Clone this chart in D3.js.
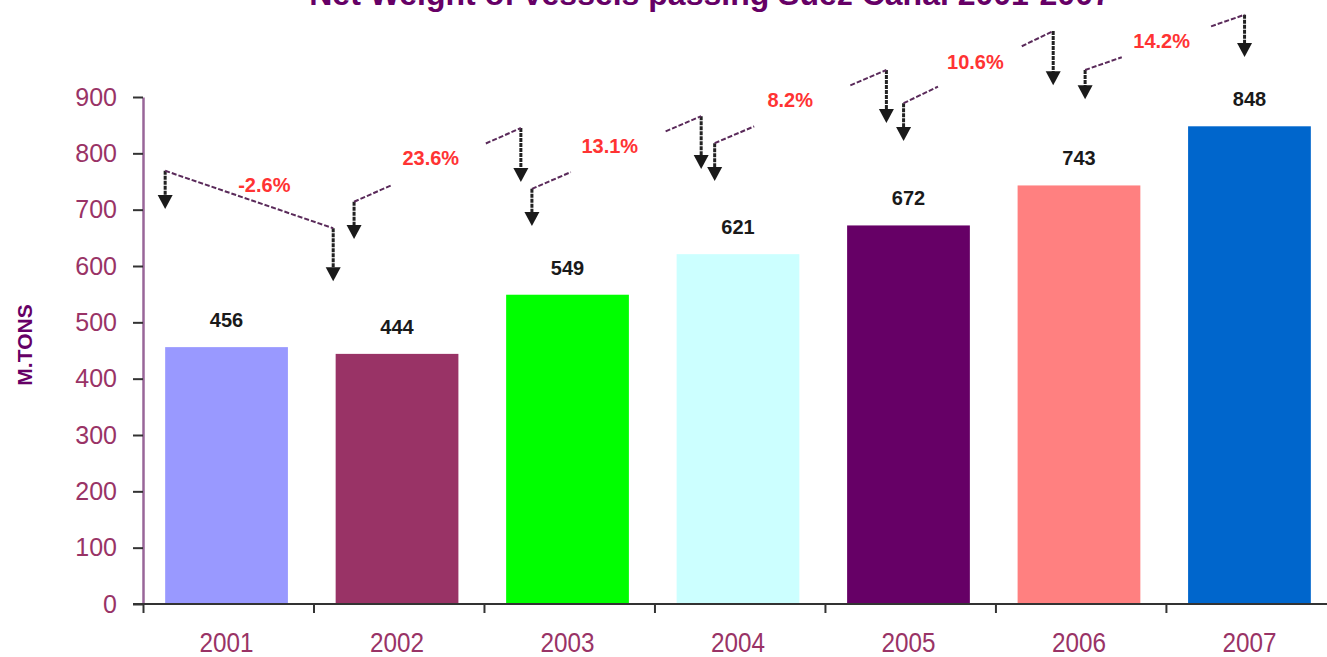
<!DOCTYPE html>
<html>
<head>
<meta charset="utf-8">
<script src="https://cdn.jsdelivr.net/npm/d3@7"></script>
<style>
  body { margin: 0; background: #fff; }
  svg { display: block; font-family: Arial, "Liberation Sans", sans-serif; }
</style>
</head>
<body>
<div id="chart"></div>
<script>
var svgWidth = 1327;
var svgHeight = 657;

// data
var years = ["2001", "2002", "2003", "2004", "2005", "2006", "2007"];
var tonnage = [456, 444, 549, 621, 672, 743, 848];
var barColors = ["#9999FF", "#993366", "#00FF00", "#CCFFFF", "#660066", "#FF8080", "#0066CC"];
var yTicks = [0, 100, 200, 300, 400, 500, 600, 700, 800, 900];
var growthLabels = ["-2.6%", "23.6%", "13.1%", "8.2%", "10.6%", "14.2%"];

// callout arrows (x as fraction of bar width, y in M.TONS)
var leftDx = [0.0, 0.15, 0.21, 0.31, 0.46, 0.55];
var rightDx = [-0.02, 0.12, 0.20, 0.32, 0.29, 0.46];
var leftTop = [769, 714, 737, 818, 889, 948];
var leftTip = [701, 648, 671, 751, 822, 896];
var rightTop = [667, 845, 866, 948, 1017, 1046];
var rightTip = [573, 749, 772, 854, 921, 971];
var labelT = [0.59, 0.46, 0.46, 0.44, 0.48, 0.48];
var labelLift = [20, 10, 9, 11, 7, 2];

var plot = { left: 143, right: 1333, top: 97, bottom: 604 };

var svg = d3.select("#chart").append("svg")
    .attr("width", svgWidth)
    .attr("height", svgHeight);

var x = d3.scaleBand()
    .domain(years)
    .range([plot.left, plot.right])
    .paddingInner(0.28)
    .paddingOuter(0.13);

var y = d3.scaleLinear()
    .domain([0, 900])
    .range([plot.bottom, plot.top]);

// title (cut off at the top of the picture)
svg.append("text")
    .attr("x", 710)
    .attr("y", 5)
    .attr("text-anchor", "middle")
    .attr("font-size", "32px")
    .attr("font-weight", "bold")
    .attr("fill", "#660066")
    .text("Net Weight of vessels passing Suez Canal 2001-2007");

// bars
svg.selectAll("rect.bar")
    .data(tonnage)
    .enter()
    .append("rect")
    .attr("class", "bar")
    .attr("x", (d, i) => x(years[i]))
    .attr("y", d => y(d))
    .attr("width", x.bandwidth())
    .attr("height", d => y(0) - y(d))
    .attr("fill", (d, i) => barColors[i]);

// value labels
svg.selectAll("text.val")
    .data(tonnage)
    .enter()
    .append("text")
    .attr("class", "val")
    .attr("x", (d, i) => x(years[i]) + x.bandwidth() / 2)
    .attr("y", d => y(d) - 20)
    .attr("text-anchor", "middle")
    .attr("font-size", "20px")
    .attr("font-weight", "bold")
    .attr("fill", "#1a1a1a")
    .text(d => d);

// y axis
var yAxis = svg.append("g")
    .attr("transform", `translate(${plot.left},0)`)
    .call(d3.axisLeft(y).tickValues(yTicks).tickSize(10).tickSizeOuter(0).tickPadding(16));
yAxis.select(".domain").attr("stroke", "#996699").attr("stroke-width", 2.5);
yAxis.selectAll(".tick line").attr("stroke", "#333").attr("stroke-width", 2);
yAxis.selectAll(".tick text")
    .attr("font-size", "25px")
    .attr("fill", "#993366")
    .attr("font-family", "Arial, 'Liberation Sans', sans-serif");

// x axis: ticks sit between the categories
var step = x.step();
var xTickScale = d3.scaleLinear().domain([0, years.length]).range([plot.left, plot.left + step * years.length]);
var xAxis = svg.append("g")
    .attr("transform", `translate(0,${plot.bottom})`)
    .call(d3.axisBottom(xTickScale).tickValues(d3.range(0, years.length)).tickSize(9).tickSizeOuter(0).tickFormat(""));
xAxis.select(".domain").attr("stroke", "none");
xAxis.selectAll(".tick line").attr("stroke", "#333").attr("stroke-width", 2);
svg.append("line")
    .attr("x1", plot.left - 10).attr("x2", svgWidth)
    .attr("y1", plot.bottom).attr("y2", plot.bottom)
    .attr("stroke", "#333").attr("stroke-width", 2);

svg.selectAll("text.year")
    .data(years)
    .enter()
    .append("text")
    .attr("class", "year")
    .attr("transform", d => `translate(${x(d) + x.bandwidth() / 2},652) scale(0.9,1)`)
    .attr("text-anchor", "middle")
    .attr("font-size", "27px")
    .attr("fill", "#993366")
    .text(d => d);

// y axis title
svg.append("text")
    .attr("transform", "translate(32,345) rotate(-90)")
    .attr("text-anchor", "middle")
    .attr("font-size", "21px")
    .attr("font-weight", "bold")
    .attr("fill", "#660066")
    .text("M.TONS");

// growth callouts
var callouts = svg.append("g");
growthLabels.forEach(function(lbl, i) {
    var xl = x(years[i]) + leftDx[i] * x.bandwidth();
    var xr = x(years[i + 1]) + rightDx[i] * x.bandwidth();
    var yl = y(leftTop[i]);
    var yr = y(rightTop[i]);

    // vertical arrows
    [[xl, yl, y(leftTip[i])], [xr, yr, y(rightTip[i])]].forEach(function(a) {
        callouts.append("line")
            .attr("x1", a[0]).attr("x2", a[0])
            .attr("y1", a[1]).attr("y2", a[2] - 13)
            .attr("stroke", "#222")
            .attr("stroke-width", 3)
            .attr("stroke-dasharray", "4,1");
        callouts.append("path")
            .attr("d", `M${a[0] - 7.5},${a[2] - 14} L${a[0] + 7.5},${a[2] - 14} L${a[0]},${a[2]} Z`)
            .attr("fill", "#1a1a1a");
    });

    // slanted connector, broken round the label except on the first one
    var pieces = i === 0 ? [[0, 1]] : [[0, 0.23], [0.79, 1]];
    pieces.forEach(function(p) {
        callouts.append("line")
            .attr("x1", xl + (xr - xl) * p[0]).attr("y1", yl + (yr - yl) * p[0])
            .attr("x2", xl + (xr - xl) * p[1]).attr("y2", yl + (yr - yl) * p[1])
            .attr("stroke", "#5a2a5a")
            .attr("stroke-width", 2)
            .attr("stroke-dasharray", "5,2");
    });

    var t = labelT[i];
    callouts.append("text")
        .attr("x", xl + (xr - xl) * t)
        .attr("y", yl + (yr - yl) * t - labelLift[i])
        .attr("dy", "0.35em")
        .attr("text-anchor", "middle")
        .attr("font-size", "20px")
        .attr("font-weight", "bold")
        .attr("fill", "#FF3333")
        .text(lbl);
});
</script>
</body>
</html>
